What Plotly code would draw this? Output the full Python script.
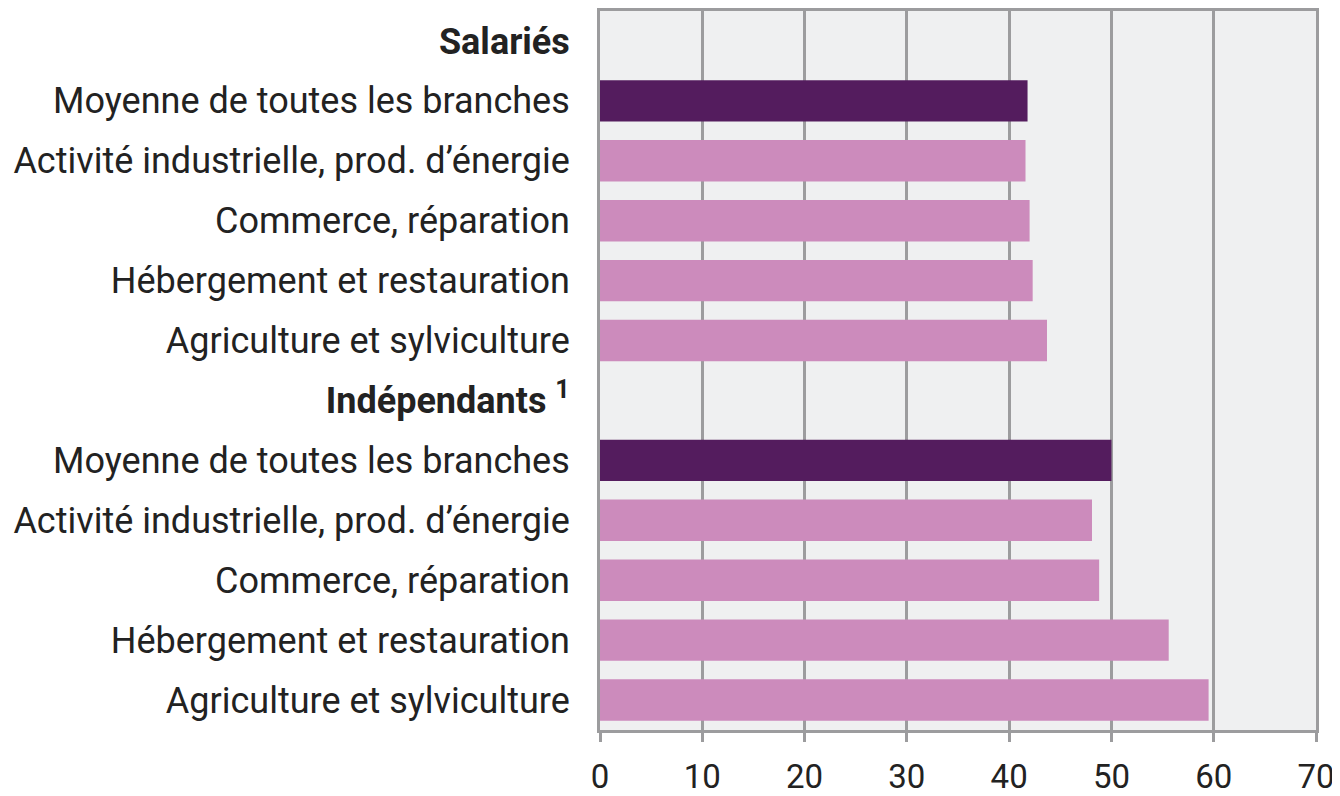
import plotly.graph_objects as go

labels = [
    "<b>Salariés</b>",
    "Moyenne de toutes les branches",
    "Activité industrielle, prod. d’énergie",
    "Commerce, réparation",
    "Hébergement et restauration",
    "Agriculture et sylviculture",
    "<b>Indépendants </b><sup><b>1</b></sup>",
    "Moyenne de toutes les branches",
    "Activité industrielle, prod. d’énergie",
    "Commerce, réparation",
    "Hébergement et restauration",
    "Agriculture et sylviculture",
]
values = [0, 41.8, 41.6, 42.0, 42.3, 43.7, 0, 50.0, 48.1, 48.8, 55.6, 59.5]
kinds = ["h", "avg", "b", "b", "b", "b", "h", "avg", "b", "b", "b", "b"]
x_ticks = [0, 10, 20, 30, 40, 50, 60, 70]

color_map = {"avg": "#541C5E", "b": "#CC8BBC", "h": "rgba(0,0,0,0)"}
colors = [color_map[k] for k in kinds]
positions = list(range(len(labels)))

fig = go.Figure(go.Bar(
    x=values, y=positions, orientation="h",
    marker=dict(color=colors, line=dict(width=0)),
    width=0.69, hoverinfo="skip",
))

# the page body adds an 8px offset, so the figure is sized/margined accordingly
fig.update_layout(
    width=1332, height=788,
    margin=dict(l=592, r=24, t=0, b=57),
    plot_bgcolor="#EFF0F1", paper_bgcolor="white",
    font=dict(family="Roboto", color="#222222"),
    showlegend=False,
)
grid = "#9C9C9E"
fig.update_xaxes(
    range=[0, 70], tickvals=x_ticks, ticktext=[str(t) for t in x_ticks],
    showgrid=True, gridcolor=grid, gridwidth=3,
    showline=True, linecolor=grid, linewidth=3, mirror=True,
    ticks="outside", ticklen=9, tickwidth=3, tickcolor=grid,
    tickfont=dict(size=33, color="#222222"), ticklabelstandoff=6,
    zeroline=False,
)
fig.update_yaxes(
    range=[len(labels) - 0.5, -0.5], tickvals=positions, ticktext=labels,
    showgrid=False, zeroline=False,
    showline=True, linecolor=grid, linewidth=3, mirror=True,
    ticks="", tickfont=dict(size=36, color="#222222"), ticklabelstandoff=20,
)

fig.write_html("out.html")
